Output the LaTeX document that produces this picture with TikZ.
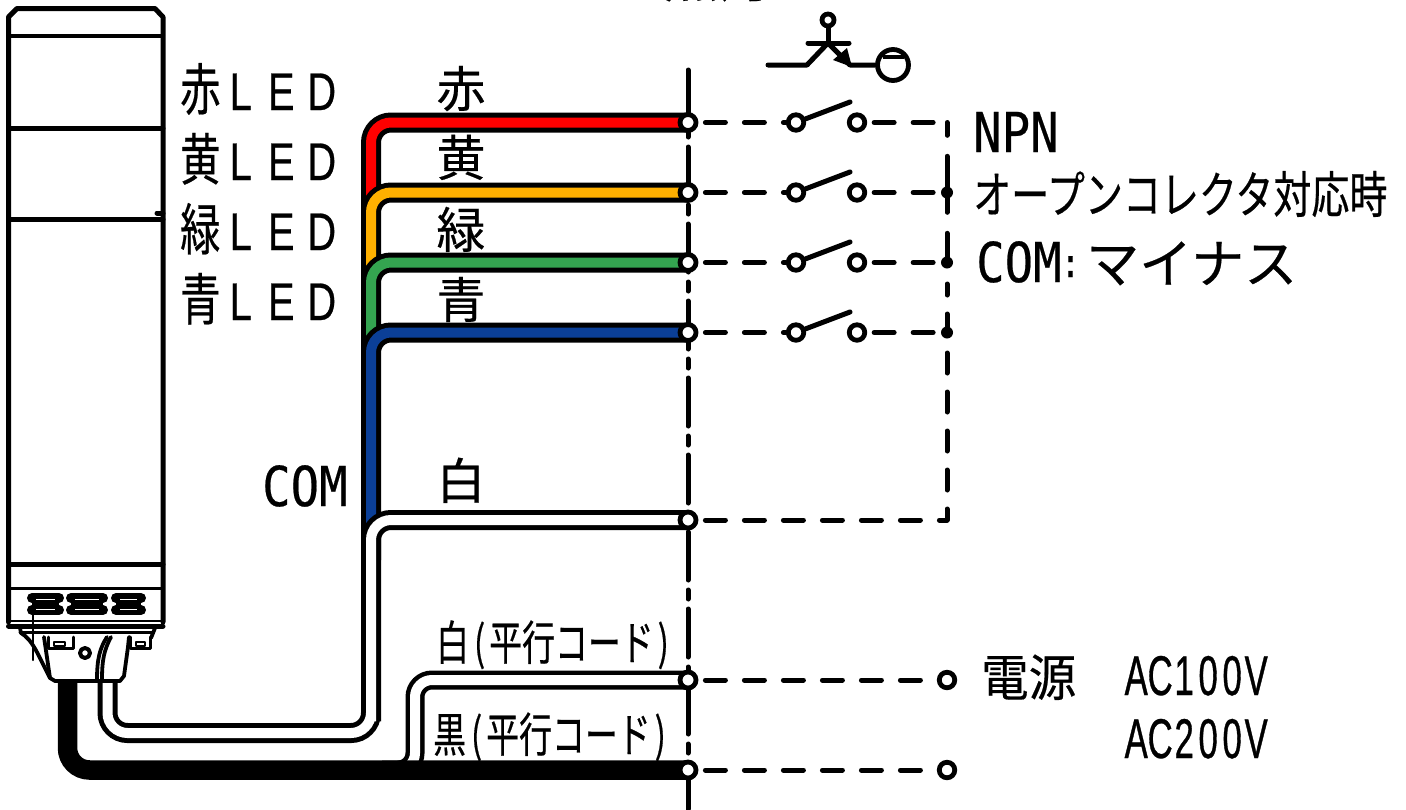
\documentclass[tikz,border=0pt]{standalone}
\usepackage{fontspec}
\setmainfont[FakeBold=0.4]{Noto Sans CJK JP}
\newfontfamily\cjkled[FakeStretch=0.72,FakeBold=0.4]{Noto Sans CJK JP}
\newfontfamily\cjkcord[FakeStretch=0.7,FakeBold=0.4]{Noto Sans CJK JP}
\newfontfamily\cjkopen[FakeStretch=0.76,FakeBold=0.4]{Noto Sans CJK JP}
\newfontfamily\cjkden[FakeStretch=0.95,FakeBold=0.4]{Noto Sans CJK JP}
\newfontfamily\latled[FakeStretch=0.75,FakeBold=0.5]{Liberation Sans}
\newfontfamily\latac[FakeStretch=0.62,FakeBold=0.6]{Liberation Sans}
\newfontfamily\latc[FakeStretch=0.86,FakeBold=0.4]{DejaVu Sans Mono}
\usetikzlibrary{backgrounds}
\tikzset{
  x=1pt,y=-1pt,
  terminal/.style={circle,draw=black,fill=white,line width=4.8pt,minimum size=16pt,inner sep=0pt},
  smallterm/.style={circle,draw=black,fill=white,line width=4.8pt,minimum size=15.5pt,inner sep=0pt},
  junction/.style={circle,fill=black,minimum size=12pt,inner sep=0pt},
  txt/.style={inner sep=0pt,anchor=base west},
  ledlab/.style={txt,font=\cjkled\fontsize{56}{56}\selectfont},
  ctrlab/.style={inner sep=0pt,anchor=base,font=\fontsize{49}{49}\selectfont},
  cordlab/.style={txt,font=\cjkcord\fontsize{47}{47}\selectfont},
  comlab/.style={txt,font=\latc\fontsize{55}{55}\selectfont},
  aclab/.style={txt,font=\latac\fontsize{56}{56}\selectfont},
  wireblack/.style={line width=20pt,draw=black,rounded corners=20pt},
  dashwire/.style={line width=5pt,line cap=round,dash pattern=on 20pt off 19pt,dash phase=32pt},
  thick line/.style={line width=5pt,line cap=round,line join=round},
}
\newcommand{\wire}[2]{%
  \draw[wireblack] #2;
  \draw[line width=10pt,draw=#1,rounded corners=20pt] #2;
}
\newcommand{\ledtxt}{{\latled\fontsize{53}{53}\selectfont\makebox[40.5pt]{L}\makebox[40.5pt]{E}\makebox[40.5pt]{D}}}
\newcommand{\mc}[1]{\makebox[24pt]{#1}}
\newcommand{\cordtxt}[1]{#1\kern5pt(\kern4pt平行コード\kern4pt)}
\definecolor{wred}{HTML}{FF0000}
\definecolor{wor}{HTML}{FFB000}
\definecolor{wgr}{HTML}{34A450}
\definecolor{wbl}{HTML}{0B3F97}
\begin{document}
\begin{tikzpicture}
\path[use as bounding box] (0,0) rectangle (1406,809);
% terminals
\node[terminal] (t1) at (688,122.5) {};
\node[terminal] (t2) at (688,192.5) {};
\node[terminal] (t3) at (688,262.5) {};
\node[terminal] (t4) at (688,332.5) {};
\node[terminal] (t5) at (688,520) {};
\node[terminal] (t6) at (688,680) {};
\node[terminal] (t7) at (688,770) {};
% switches
\foreach \i/\y in {1/122.5,2/192.5,3/262.5,4/332.5}{
  \node[smallterm] (a\i) at (796,\y) {};
  \node[smallterm] (b\i) at (857,\y) {};
  \coordinate (arm\i) at (850,\y-20.5);
  \draw[thick line] (a\i) -- (arm\i);
}
\coordinate (bt) at (947,122.5);
\node[junction] (j2) at (947,192.5) {};
\node[junction] (j3) at (947,262.5) {};
\node[junction] (j4) at (947,332.5) {};
\coordinate (bb) at (947,520);
\node[smallterm] (p1) at (947,680) {};
\node[smallterm] (p2) at (947,770) {};
% vertical centre line
\coordinate (vt) at (688,70);
\coordinate (vb) at (688,809);
\begin{pgfonlayer}{background}
\fill[white] (0,0) rectangle (1406,809);
\draw[line width=5pt,line cap=round,dash pattern=on 48pt off 10pt on 9pt off 10pt] (vt) -- (vb);
% dashed lines
\foreach \i in {1,2,3,4}{
  \draw[dashwire] (t\i) -- (a\i);
}
\draw[dashwire] (b1) -- (bt);
\draw[dashwire] (b2) -- (j2);
\draw[dashwire] (b3) -- (j3);
\draw[dashwire] (b4) -- (j4);
\draw[dashwire] (t5) -- (bb);
\draw[dashwire] (t6) -- (p1);
\draw[dashwire] (t7) -- (p2);
\draw[line width=5pt,line cap=round,dash pattern=on 11pt off 19pt on 20pt off 19pt on 20pt off 19pt on 20pt off 19pt on 20pt off 19pt on 20pt off 19pt] (bb) -- (j3);
\draw[line width=5pt,line cap=round,dash pattern=on 23pt off 21pt on 56pt off 21pt on 19pt off 10pt] (j3) -- (bt);
% cables
\wire{wred}{(371,210) |- (t1.center)}
\wire{wor}{(371,280) |- (t2.center)}
\wire{wgr}{(371,350) |- (t3.center)}
\wire{wbl}{(371,560) |- (t4.center)}
\wire{white}{(107.5,682) |- (371,733) -- (371,733) |- (t5.center)}
\draw[line width=19pt,draw=black,rounded corners=17pt] (382,770) -| (415,680) -- (t6.center);
\draw[line width=10pt,draw=white,rounded corners=17pt] (382,770) -| (415,680) -- (t6.center);
\draw[line width=19.5pt,draw=black,rounded corners=22pt] (67.5,682) |- (t7.center);
\end{pgfonlayer}
% tower
\begin{scope}[thick line]
\draw (8.5,622) -- (8.5,17) -- (17,8.5) -- (155,8.5) -- (163,17) -- (163,622);
\draw[line width=4pt] (8.5,36) -- (163,36);
\draw (8.5,128) -- (163,128);
\draw (8.5,219) -- (163,219);
\draw (157,213) -- (163,213);
\draw (8.5,564) -- (163,564);
\draw[line width=3pt] (8.5,588) -- (163,588);
\draw[line width=2.5pt] (8.5,621) -- (163,621);
\draw (8.5,626) -- (163,626);
\end{scope}
% lamp ribs
\foreach \xa/\xb in {32/59,71/103,116/141}{
  \draw[line width=10pt,line cap=round] (\xa,598) -- (\xb,598);
  \draw[line width=10pt,line cap=round] (\xa,610) -- (\xb,610);
  \draw[line width=4pt] (\xa,604) -- (\xb,604);
  \draw[white,line width=1pt] (\xa+4,599) -- (\xb-4,599);
  \draw[white,line width=1pt] (\xa+4,609) -- (\xb-4,609);
}
% base
\begin{scope}[line width=3.8pt,line join=round,line cap=round]
\fill[white] (20,630) -- (155,630) -- (152,638) -- (128,647) -- (125,675) -- (120,681) -- (55,681) -- (50,678) -- (33,643) -- cycle;
\draw (20,628) -- (21,633) .. controls (33,640) and (38,655) .. (50,678) -- (55,681) -- (120,681) -- (124,676) -- (128,647) -- (129,637);
\draw[line width=3pt] (20,632) -- (152,632);
\draw (155,628) -- (151,638);
\draw (44,637) -- (50,678);
\draw[line width=2pt] (33,612) -- (33,660);
\draw (107,637) .. controls (100,648) and (97,658) .. (97,680);
\draw (111,637) .. controls (104,650) and (102,660) .. (102,680);
\draw[line width=3pt] (48,637) -- (48,648) -- (73,648) -- (73,637);
\draw[line width=3pt] (130,637) -- (130,648) -- (150,648) -- (150,637);
\draw[line width=2.4pt] (54,642) rectangle (65,646);
\draw[line width=2.4pt] (136,642) rectangle (145,646);
\draw[line width=4pt] (85,653) circle (5);
\end{scope}
% transistor
\node[smallterm,minimum size=12pt] (q1) at (828,20) {};
\coordinate (qb) at (828,43);
\coordinate (qc) at (807,65);
\coordinate (ql) at (768,65);
\coordinate (qe) at (850,65);
\node[circle,draw=black,line width=4.8pt,minimum size=31pt,inner sep=0pt] (q2) at (893,65) {};
\coordinate (qm1) at (883,57);
\coordinate (qm2) at (904,57);
\coordinate (qs1) at (808,43);
\coordinate (qs2) at (849,43);
\draw[thick line] (q1) -- (qb);
\draw[thick line] (qs1) -- (qs2);
\draw[thick line] (ql) -- (qc) -- (qb) -- (qe) -- (q2);
\draw[line width=3.6pt] (qm1) -- (qm2);
\fill[line join=round] (833,60) -- (847,48) -- (852,67) -- cycle;
% labels
\node[ledlab] (l1) at (180,110) {赤\ledtxt};
\node[ledlab] (l2) at (180,180) {黄\ledtxt};
\node[ledlab] (l3) at (180,250) {緑\ledtxt};
\node[ledlab] (l4) at (180,320) {青\ledtxt};
\node[ctrlab] (c1) at (461,107) {赤};
\node[ctrlab] (c2) at (461,176) {黄};
\node[ctrlab] (c3) at (461,248) {緑};
\node[ctrlab] (c4) at (461,318) {青};
\node[ctrlab] (c5) at (461,499) {白};
\node[comlab] (com) at (262,506) {COM};
\node[cordlab] (cw) at (436,660) {\cordtxt{白}};
\node[cordlab] (ck) at (433,752) {\cordtxt{黒}};
\node[comlab] (npn) at (973,152) {NPN};
\node[txt,font=\cjkopen\fontsize{50}{50}\selectfont] (oc) at (973,213) {オープンコレクタ対応時};
\node[comlab] (cm) at (976,282) {COM};
\node[txt,font=\latc\fontsize{40}{40}\selectfont] (cl) at (1060,277) {:};
\node[txt,font=\fontsize{53}{53}\selectfont] (mi) at (1086,283) {マイナス};
\node[txt,font=\cjkden\fontsize{50}{50}\selectfont] (den) at (981,696) {電源};
\node[aclab] (ac1) at (1124,695) {\mc{A}\mc{C}\mc{1}\mc{0}\mc{0}\mc{V}};
\node[aclab] (ac2) at (1124,758) {\mc{A}\mc{C}\mc{2}\mc{0}\mc{0}\mc{V}};
\node[txt,font=\fontsize{56}{56}\selectfont] (top) at (663,-3) {点灯させるとき};
\end{tikzpicture}
\end{document}
